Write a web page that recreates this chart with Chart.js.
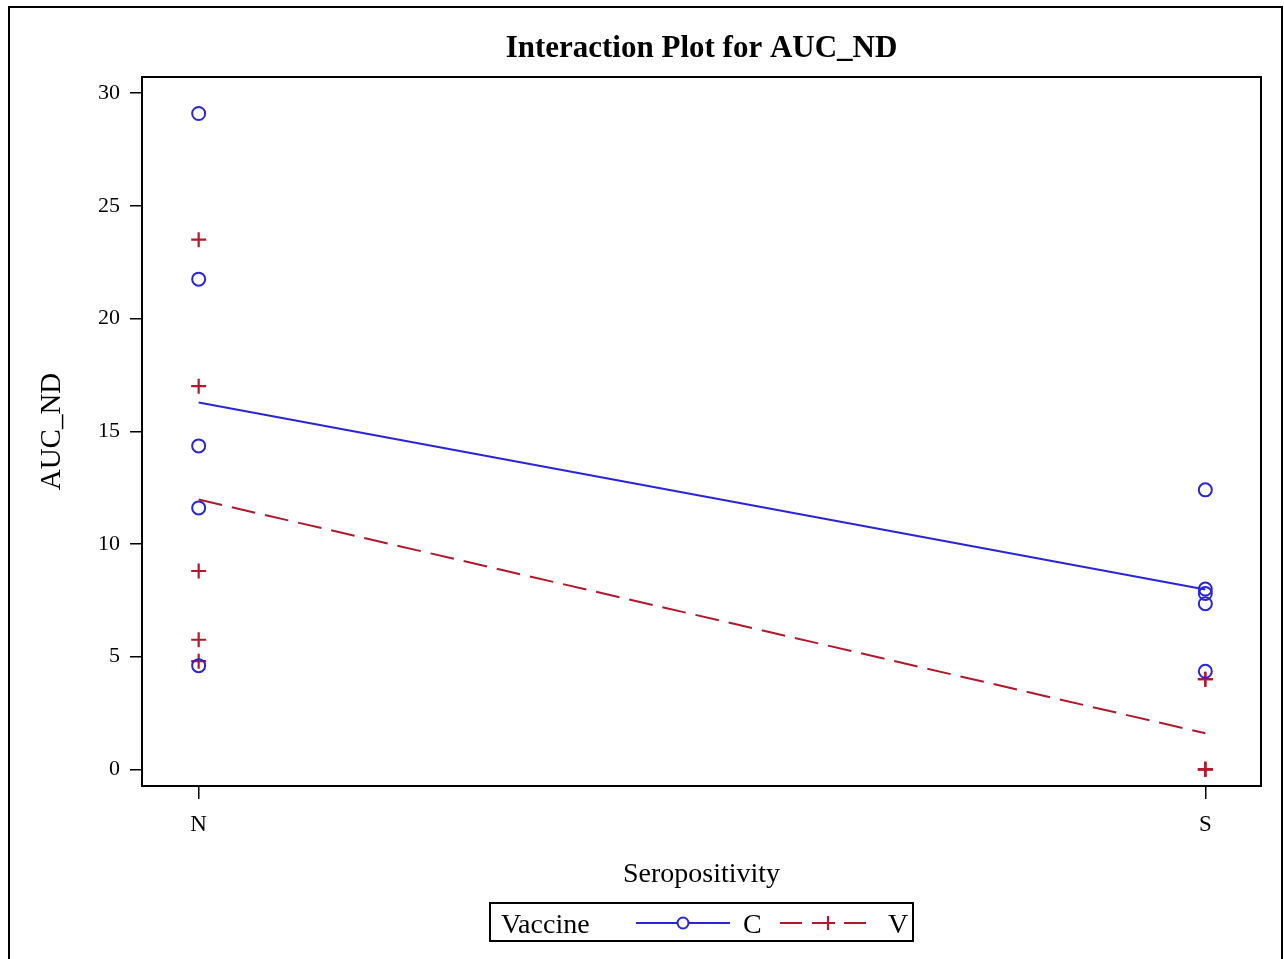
<!DOCTYPE html>
<html>
<head>
<meta charset="utf-8">
<script src="https://cdn.jsdelivr.net/npm/chart.js@4"></script>
<style>
html,body{margin:0;padding:0;background:#fff;}
#wrap{width:1284px;height:959px;position:relative;}
</style>
</head>
<body>
<div id="wrap"><canvas id="c"></canvas></div>
<script>
// ---- data ----
const categories = ['N', 'S'];
const groups = ['C', 'V'];
const cN = [29.1, 21.75, 14.35, 11.6, 4.6];
const cS = [12.4, 8.0, 7.8, 7.35, 4.35];
const vN = [23.5, 17.0, 8.8, 5.75, 4.8];
const vS = [4.0, 4.0, 0, 0, 0];
const yTicks = [0, 5, 10, 15, 20, 25, 30];
const chartTitle = 'Interaction Plot for AUC_ND';
const xTitle = 'Seropositivity';
const yTitle = 'AUC_ND';
const legendTitle = 'Vaccine';

const BLUE = '#2A25D9';
const RED = '#B2182B';
const SERIF = '"Liberation Serif", "Times New Roman", serif';

const mean = a => a.reduce((s, v) => s + v, 0) / a.length;
const pts = (arr, xi) => arr.map(v => ({x: xi, y: v}));

const framePlugin = {
  id: 'frame',
  afterDraw(chart) {
    const ctx = chart.ctx;
    const a = chart.chartArea;
    ctx.save();
    // outer frame
    ctx.strokeStyle = '#000';
    ctx.lineWidth = 2;
    ctx.strokeRect(9, 7, 1273, 1000);
    // plot frame
    ctx.lineWidth = 2;
    ctx.strokeRect(a.left, a.top, a.right - a.left, a.bottom - a.top);
    // title
    ctx.fillStyle = '#000';
    ctx.font = 'bold 31px ' + SERIF;
    ctx.textAlign = 'center';
    ctx.textBaseline = 'alphabetic';
    ctx.fillText(chartTitle, (a.left + a.right) / 2, 57);
    // legend box
    const lx = 490, ly = 903, lw = 423, lh = 38;
    ctx.lineWidth = 2;
    ctx.strokeRect(lx, ly, lw, lh);
    ctx.font = '28px ' + SERIF;
    ctx.textAlign = 'left';
    const cy = ly + lh / 2 + 1;
    ctx.fillText(legendTitle, 501, cy + 10);
    // C sample
    ctx.strokeStyle = BLUE;
    ctx.lineWidth = 2;
    ctx.beginPath(); ctx.moveTo(636, cy); ctx.lineTo(730, cy); ctx.stroke();
    ctx.beginPath(); ctx.arc(683, cy, 5.5, 0, Math.PI * 2);
    ctx.fillStyle = '#fff'; ctx.fill(); ctx.stroke();
    ctx.fillStyle = '#000';
    ctx.fillText(groups[0], 743, cy + 10);
    // V sample
    ctx.strokeStyle = RED;
    ctx.lineWidth = 2;
    ctx.setLineDash([22, 10]);
    ctx.beginPath(); ctx.moveTo(780, cy); ctx.lineTo(868, cy); ctx.stroke();
    ctx.setLineDash([]);
    ctx.lineWidth = 2.2;
    ctx.beginPath();
    ctx.moveTo(828, cy - 7); ctx.lineTo(828, cy + 7);
    ctx.moveTo(821, cy); ctx.lineTo(835, cy);
    ctx.stroke();
    ctx.fillStyle = '#000';
    ctx.fillText(groups[1], 888, cy + 10);
    ctx.restore();
  }
};

new Chart(document.getElementById('c'), {
  type: 'scatter',
  data: {
    datasets: [
      {label: 'C mean', data: [{x: 0, y: mean(cN)}, {x: 1, y: mean(cS)}], showLine: true,
       borderColor: BLUE, borderWidth: 2, pointRadius: 0},
      {label: 'V mean', data: [{x: 0, y: mean(vN)}, {x: 1, y: mean(vS)}], showLine: true,
       borderColor: RED, borderWidth: 2, borderDash: [24, 10], pointRadius: 0},
      {label: 'C', data: pts(cN, 0).concat(pts(cS, 1)), pointStyle: 'circle', pointRadius: 6.5,
       borderColor: BLUE, backgroundColor: 'rgba(0,0,0,0)', pointBorderWidth: 2},
      {label: 'V', data: pts(vN, 0).concat(pts(vS, 1)), pointStyle: 'cross', pointRadius: 7.5,
       borderColor: RED, backgroundColor: RED, pointBorderWidth: 2.2}
    ]
  },
  options: {
    responsive: true,
    maintainAspectRatio: false,
    animation: false,
    events: [],
    layout: {padding: {left: 0, right: 23, top: 77, bottom: 63}},
    plugins: {legend: {display: false}, title: {display: false}, tooltip: {enabled: false}},
    scales: {
      x: {
        type: 'linear',
        min: -0.0563, max: 1.0553,
        afterBuildTicks: s => { s.ticks = categories.map((c, i) => ({value: i})); },
        afterFit: s => { s.height = 110; },
        ticks: {
          callback: v => categories[v],
          color: '#000', font: {family: SERIF, size: 23}, padding: 12, maxRotation: 0
        },
        grid: {drawOnChartArea: false, drawTicks: true, tickLength: 13, color: '#000', lineWidth: 1.5},
        border: {display: true, color: '#000', width: 2},
        title: {display: true, text: xTitle, color: '#000', font: {family: SERIF, size: 28, lineHeight: 1.2},
                padding: {top: 0, bottom: 5}}
      },
      y: {
        type: 'linear',
        min: -0.74, max: 30.72,
        afterBuildTicks: s => { s.ticks = yTicks.map(v => ({value: v})); },
        afterFit: s => { s.width = 142; },
        ticks: {color: '#000', font: {family: SERIF, size: 22}, padding: 10},
        grid: {drawOnChartArea: false, drawTicks: true, tickLength: 12, color: '#000', lineWidth: 1.5},
        border: {display: true, color: '#000', width: 2},
        title: {display: true, text: yTitle, color: '#000', font: {family: SERIF, size: 29, lineHeight: 1.2},
                padding: {top: 35, bottom: 0}}
      }
    }
  },
  plugins: [framePlugin]
});
</script>
</body>
</html>
